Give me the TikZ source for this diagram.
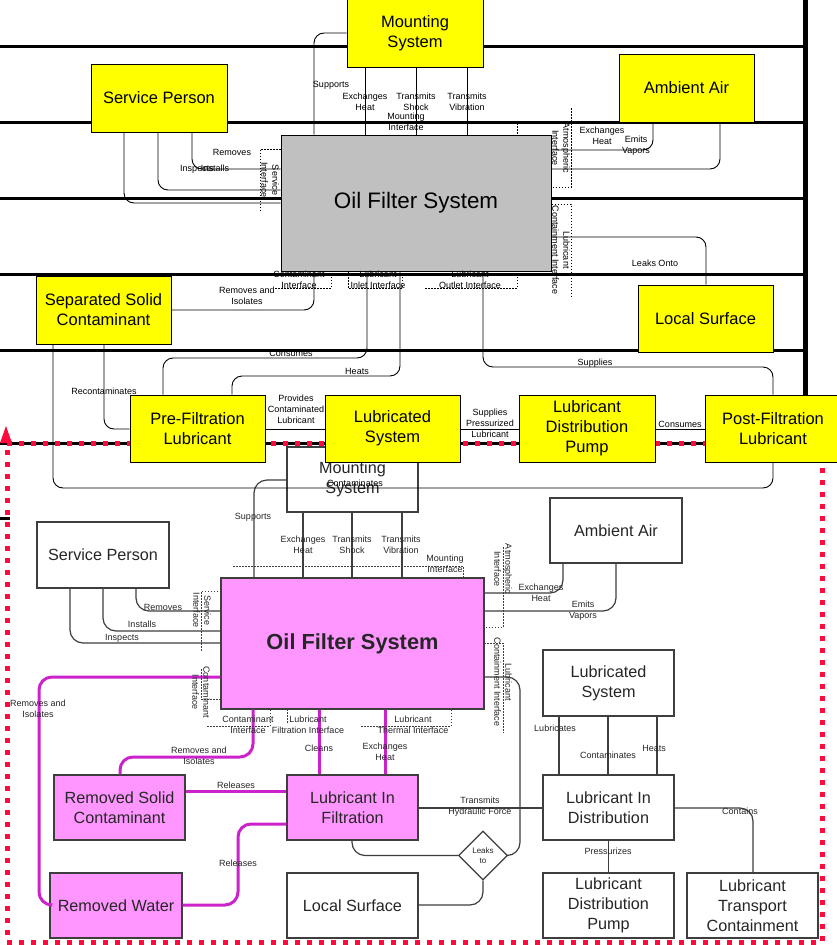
\documentclass[tikz,border=0pt]{standalone}
\usepackage{fontspec}
\setmainfont{Liberation Sans}
\usetikzlibrary{shapes.geometric}

\definecolor{laneyellow}{RGB}{255,255,0}
\definecolor{ofsgray}{RGB}{192,192,192}
\definecolor{pinkfill}{RGB}{255,150,255}
\definecolor{magline}{RGB}{204,34,204}
\definecolor{dkgray}{RGB}{62,62,62}
\definecolor{txtgray}{RGB}{38,38,38}
\definecolor{scopered}{RGB}{255,10,60}

\tikzset{
  lane/.style={line width=3pt, black},
  ybox/.style={draw=black, fill=laneyellow, line width=1pt, inner sep=0pt, align=center,
    font=\fontsize{16.5}{20}\selectfont},
  tline/.style={draw=black, line width=0.9pt, rounded corners=10pt},
  tlab/.style={inner sep=0pt, align=center, font=\fontsize{9}{11}\selectfont},
  tifc/.style={draw=black, line width=0.8pt, dash pattern=on 1.5pt off 1.5pt},
  wbox/.style={draw=dkgray, fill=white, line width=1.4pt, inner sep=0pt, align=center,
    text=txtgray, font=\fontsize{16.2}{20}\selectfont},
  pbox/.style={wbox, fill=pinkfill},
  bline/.style={draw=dkgray, line width=1.2pt, rounded corners=13pt},
  mline/.style={draw=magline, line width=3pt, rounded corners=13pt},
  blab/.style={inner sep=0pt, align=center, text=txtgray, font=\fontsize{9}{11}\selectfont},
  bifc/.style={draw=dkgray, line width=0.9pt, dash pattern=on 1.5pt off 1.5pt},
}

\begin{document}
\begin{tikzpicture}[x=1pt,y=-1pt]
\path[use as bounding box] (0,0) rectangle (837,945);
\clip (0,0) rectangle (837,945);
\fill[white] (0,0) rectangle (837,945);

% ================= lower diagram =================
% boxes
\node[wbox, minimum width=131, minimum height=65] (bms) at (352.5,479.5) {Mounting\\System};
\node[wbox, minimum width=132, minimum height=66] (bsp) at (103,555) {Service Person};
\node[wbox, minimum width=132, minimum height=65] (baa) at (616,530.5) {Ambient Air};
\node[pbox, minimum width=263, minimum height=131, font=\fontsize{21.8}{26}\selectfont\bfseries]
  (bofs) at (352.5,643.5) {Oil Filter System};
\node[wbox, minimum width=131, minimum height=66] (blsys) at (608.5,683) {Lubricated\\System};
\node[pbox, minimum width=131, minimum height=65] (brsc) at (119.5,807.5) {Removed Solid\\Contaminant};
\node[pbox, minimum width=131, minimum height=65] (blif) at (352.5,807.5) {Lubricant In\\Filtration};
\node[wbox, minimum width=131, minimum height=65] (blid) at (608.5,807.5) {Lubricant In\\Distribution};
\node[pbox, minimum width=132, minimum height=65] (brw) at (116,905.5) {Removed Water};
\node[wbox, minimum width=131, minimum height=65] (blsurf) at (352.5,905.5) {Local Surface};
\node[wbox, minimum width=131, minimum height=65] (bldp) at (608.5,905.5) {Lubricant\\Distribution\\Pump};
\node[wbox, minimum width=131, minimum height=65] (bltc) at (752.5,905.5) {Lubricant\\Transport\\Containment};
\node[diamond, draw=dkgray, fill=white, line width=1.2pt, minimum width=49, minimum height=49,
  inner sep=0pt, align=center, text=txtgray, font=\fontsize{8}{10}\selectfont] (leak) at (483,855.5) {Leaks\\to};

% connectors
\draw[bline] (bms.west |- 0,480) -- (254,480) -- (254,0 |- bofs.north);
\draw[bline] (303,0 |- bms.south) -- (303,0 |- bofs.north);
\draw[bline] (352,0 |- bms.south) -- (352,0 |- bofs.north);
\draw[bline] (402,0 |- bms.south) -- (402,0 |- bofs.north);
\draw[bline] (bofs.east |- 0,593) -- (563,593) -- (563,0 |- baa.south);
\draw[bline] (bofs.east |- 0,611) -- (616,611) -- (616,0 |- baa.south);
\draw[bline] (136,0 |- bsp.south) -- (136,611) -- (bofs.west |- 0,611);
\draw[bline] (103,0 |- bsp.south) -- (103,631) -- (bofs.west |- 0,631);
\draw[bline] (70,0 |- bsp.south) -- (70,643) -- (bofs.west |- 0,643);
\draw[bline] (bofs.east |- 0,677) -- (520,677) -- (520,855.5) -- (leak.east);
\draw[bline] (352,0 |- blif.south) -- (352,855.5) -- (leak.west);
\draw[bline] (leak.south) -- (483,905) -- (blsurf.east |- 0,905);
\draw[bline] (blif.east |- 0,808) -- (blid.west |- 0,808);
\draw[bline] (559,0 |- blsys.south) -- (559,0 |- blid.north);
\draw[bline] (608,0 |- blsys.south) -- (608,0 |- blid.north);
\draw[bline] (657,0 |- blsys.south) -- (657,0 |- blid.north);
\draw[bline] (blid.east |- 0,808) -- (753,808) -- (753,0 |- bltc.north);
\draw[bline] (blid.south) -- (bldp.north);

\draw[mline] (bofs.west |- 0,677) -- (39,677) -- (39,905) -- (brw.west |- 0,905);
\draw[mline] (253,0 |- bofs.south) -- (253,757) -- (120,757) -- (120,0 |- brsc.north);
\draw[mline] (319,0 |- bofs.south) -- (319,0 |- blif.north);
\draw[mline] (385,0 |- bofs.south) -- (385,0 |- blif.north);
\draw[mline] (brsc.east |- 0,791) -- (blif.west |- 0,791);
\draw[mline] (blif.west |- 0,824) -- (238,824) -- (238,905) -- (brw.east |- 0,905);

% interface outlines
\draw[bifc] (233,566) -- (463,566) -- (463,578);
\draw[bifc] (503,547) -- (503,627) -- (484,627);
\draw[bifc] (221,591) -- (201,591) -- (201,651);
\draw[bifc] (201,669) -- (201,699) -- (221,699);
\draw[bifc] (207,726) -- (270,726) -- (270,709);
\draw[bifc] (287,709) -- (287,724);
\draw[bifc] (361,726) -- (451,726) -- (451,709);
\draw[bifc] (484,643) -- (503,643) -- (503,733);

% labels
\node[blab] (b1) at (253,517) {Supports};
\node[blab] (b2) at (303,545) {Exchanges\\Heat};
\node[blab] (b3) at (352,545) {Transmits\\Shock};
\node[blab] (b4) at (401,545) {Transmits\\Vibration};
\node[blab] (b5) at (445,564) {Mounting\\Interface};
\node[blab, rotate=-90] (b6) at (503,569) {Atmospheric\\Interface};
\node[blab] (b7) at (541,592.5) {Exchanges\\Heat};
\node[blab] (b8) at (583,610.5) {Emits\\Vapors};
\node[blab] (b9) at (163,607) {Removes};
\node[blab] (b10) at (142,624) {Installs};
\node[blab] (b11) at (122,638) {Inspects};
\node[blab, rotate=-90] (b12) at (202,610) {Service\\Interface};
\node[blab, rotate=-90] (b13) at (201,692) {Contaminant\\Interface};
\node[blab, rotate=-90] (b14) at (503,682) {Lubricant\\Containment Interface};
\node[blab] (b15) at (248,725) {Contaminant\\Interface};
\node[blab] (b16) at (308,725) {Lubricant\\Filtration Interface};
\node[blab] (b17) at (413,725) {Lubricant\\Thermal Interface};
\node[blab] (b18) at (38,709) {Removes and\\Isolates};
\node[blab] (b19) at (199,756) {Removes and\\Isolates};
\node[blab] (b20) at (319,748) {Cleans};
\node[blab] (b21) at (385,751.5) {Exchanges\\Heat};
\node[blab] (b22) at (236,785) {Releases};
\node[blab] (b23) at (238,863) {Releases};
\node[blab] (b24) at (480,807) {Transmits\\Hydraulic Force};
\node[blab] (b25) at (555,728) {Lubricates};
\node[blab] (b26) at (608,755) {Contaminates};
\node[blab] (b27) at (654,748) {Heats};
\node[blab] (b28) at (740,811) {Contains};
\node[blab] (b29) at (608,851) {Pressurizes};

% ================= upper diagram =================
% swimlane rules
\foreach \ly in {46,122,198,274,350,443}
  \draw[lane] (0,\ly) -- (805,\ly);
\draw[line width=5pt] (805,0) -- (805,443);
\draw[lane] (0,518) -- (10,518);

% dotted scope frame with its arrow
\draw[scopered, line width=5pt, dash pattern=on 5pt off 7pt] (7,443) -- (822,443) -- (822,942) -- (7,942) -- cycle;
\fill[scopered] (0,443) -- (6,426) -- (12,443) -- cycle;

% boxes
\node[ybox, minimum width=136, minimum height=68] (ms) at (415,33) {Mounting\\System};
\node[ybox, minimum width=136, minimum height=68] (sp) at (159,98) {Service Person};
\node[ybox, minimum width=135, minimum height=68] (aa) at (686.5,88) {Ambient Air};
\node[ybox, fill=ofsgray, minimum width=270, minimum height=136, font=\fontsize{22.4}{26}\selectfont]
  (ofs) at (416,203) {Oil Filter System};
\node[ybox, minimum width=135, minimum height=68] (ssc) at (103.5,310) {Separated Solid\\Contaminant};
\node[ybox, minimum width=135, minimum height=67] (ls) at (705.5,318.5) {Local Surface};
\node[ybox, minimum width=135, minimum height=67] (prefl) at (197.5,428.5) {Pre-Filtration\\Lubricant};
\node[ybox, minimum width=135, minimum height=67] (lsys) at (392.5,428.5) {Lubricated\\System};
\node[ybox, minimum width=136, minimum height=67] (ldp) at (587,428.5) {Lubricant\\Distribution\\Pump};
\node[ybox, minimum width=136, minimum height=67] (pfl) at (773,428.5) {Post-Filtration\\Lubricant};

% connectors
\draw[tline] (ms.west |- 0,33) -- (314,33) -- (314,0 |- ofs.north);
\draw[tline] (365,0 |- ms.south) -- (365,0 |- ofs.north);
\draw[tline] (416,0 |- ms.south) -- (416,0 |- ofs.north);
\draw[tline] (467,0 |- ms.south) -- (467,0 |- ofs.north);
\draw[tline] (192,0 |- sp.south) -- (192,169) -- (ofs.west |- 0,169);
\draw[tline] (158,0 |- sp.south) -- (158,190) -- (ofs.west |- 0,190);
\draw[tline] (124,0 |- sp.south) -- (124,203) -- (ofs.west |- 0,203);
\draw[tline] (653,0 |- aa.south) -- (653,150) -- (ofs.east |- 0,150);
\draw[tline] (720,0 |- aa.south) -- (720,169) -- (ofs.east |- 0,169);
\draw[tline] (ofs.east |- 0,237) -- (706,237) -- (706,0 |- ls.north);
\draw[tline] (ssc.east |- 0,310) -- (314,310) -- (314,0 |- ofs.south);
\draw[tline] (367,0 |- ofs.south) -- (367,358) -- (163,358) -- (163,0 |- prefl.north);
\draw[tline] (400,0 |- ofs.south) -- (400,376) -- (232,376) -- (232,0 |- prefl.north);
\draw[tline] (483,0 |- ofs.south) -- (483,367) -- (773,367) -- (773,0 |- pfl.north);
\draw[tline] (104,0 |- ssc.south) -- (104,429) -- (prefl.west |- 0,429);
\draw[tline] (53,0 |- ssc.south) -- (53,488) -- (773,488) -- (773,0 |- pfl.south);
\draw[tline] (prefl.east |- 0,429) -- (lsys.west |- 0,429);
\draw[tline] (lsys.east |- 0,429) -- (ldp.west |- 0,429);
\draw[tline] (ldp.east |- 0,429) -- (pfl.west |- 0,429);

% interface outlines
\draw[tifc] (517,123) -- (517,135);
\draw[tifc] (ofs.west |- 0,149) -- (260,149) -- (260,211);
\draw[tifc] (571,108) -- (571,187) -- (ofs.east |- 0,187);
\draw[tifc] (ofs.east |- 0,204) -- (571,204) -- (571,297);
\draw[tifc] (275,288) -- (331,288) -- (331,271);
\draw[tifc] (348,271) -- (348,288) -- (402,288) -- (402,271);
\draw[tifc] (425,288) -- (517,288) -- (517,271);

% labels
\node[tlab] (t1) at (331,85) {Supports};
\node[tlab] (t2) at (365,101.5) {Exchanges\\Heat};
\node[tlab] (t3) at (416,101.5) {Transmits\\Shock};
\node[tlab] (t4) at (467,101.5) {Transmits\\Vibration};
\node[tlab] (t5) at (406,122) {Mounting\\Interface};
\node[tlab] (t6) at (232,152) {Removes};
\node[tlab] (t7) at (215,168) {Installs};
\node[tlab] (t8) at (197,169) {Inspects};
\node[tlab, rotate=-90] (t9) at (270,180) {Service\\Interface};
\node[tlab] (t10) at (602,136) {Exchanges\\Heat};
\node[tlab] (t11) at (636,146) {Emits\\Vapors};
\node[tlab, rotate=-90] (t12) at (561,148) {Atmospheric\\Interface};
\node[tlab, rotate=-90] (t13) at (561,250) {Lubricant\\Containment Interface};
\node[tlab] (t14) at (655,263) {Leaks Onto};
\node[tlab] (t15) at (299,279.5) {Contaminant\\Interface};
\node[tlab] (t16) at (378,279.5) {Lubricant\\Inlet Interface};
\node[tlab] (t17) at (470,279.5) {Lubricant\\Outlet Interface};
\node[tlab] (t18) at (247,295.5) {Removes and\\Isolates};
\node[tlab] (t19) at (291,353) {Consumes};
\node[tlab] (t20) at (357,371) {Heats};
\node[tlab] (t21) at (595,363) {Supplies};
\node[tlab] (t22) at (104,391) {Recontaminates};
\node[tlab] (t23) at (296,409) {Provides\\Contaminated\\Lubricant};
\node[tlab] (t24) at (490,423) {Supplies\\Pressurized\\Lubricant};
\node[tlab] (t25) at (680,424) {Consumes};
\node[tlab] (t26) at (355,483) {Contaminates};
\end{tikzpicture}
\end{document}
